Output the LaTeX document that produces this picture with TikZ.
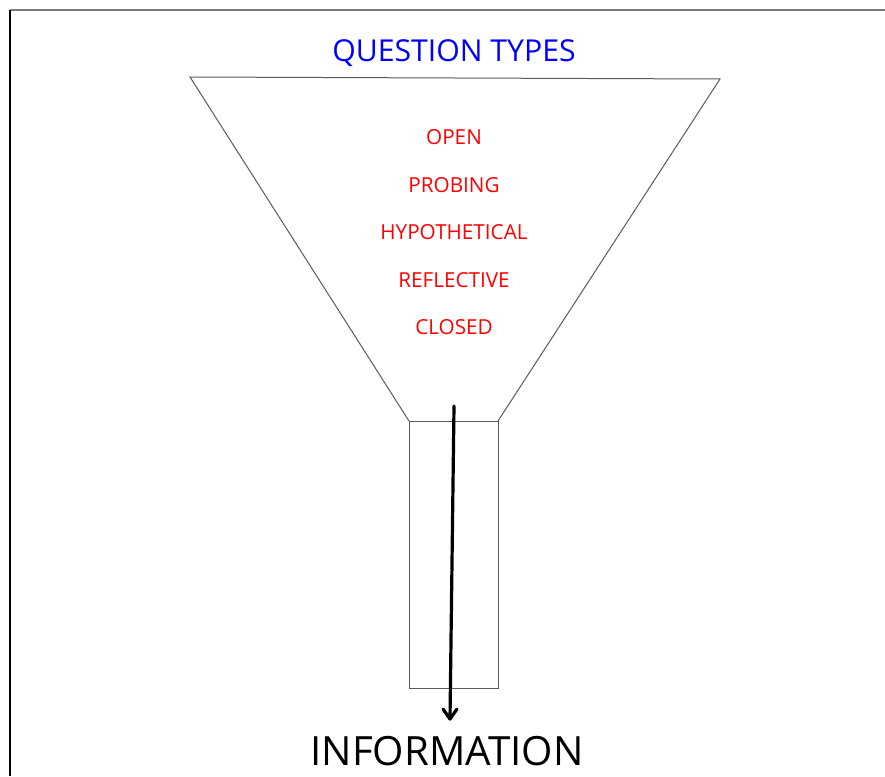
\documentclass[tikz,border=0pt]{standalone}
\usepackage{fontspec}
\setmainfont{Open Sans}
\definecolor{qblue}{RGB}{0,0,255}
\definecolor{qred}{RGB}{255,0,0}
\definecolor{edgegray}{RGB}{90,90,90}
\tikzset{
  funnelline/.style={draw=edgegray, line width=1pt},
  itemtext/.style={text=qred, font=\fontsize{20.7}{24}\selectfont, inner sep=0pt},
  flowarrow/.style={draw=black, line width=3.2pt, line cap=round, line join=round},
}
\begin{document}
\begin{tikzpicture}[x=1pt, y=-1pt]
\useasboundingbox (0,0) rectangle (885,776);
% frame
\coordinate (ftl) at (10,10);
\coordinate (ftr) at (885,10);
\coordinate (fbl) at (10,776);
\draw[draw=edgegray!80, line width=2pt] (ftl) -- (ftr);
\draw[draw=black, line width=2pt] (ftl) -- (fbl);
% funnel
\coordinate (tl) at (190,77);
\coordinate (tr) at (720,79);
\coordinate (bl) at (409,421);
\coordinate (br) at (498,421);
\coordinate (sl) at (409,688);
\coordinate (sr) at (498,688);
\draw[funnelline] (bl) -- (tl) -- (tr) -- (br);
\draw[funnelline] (bl) rectangle (sr);
% title
\node[text=qblue, font=\fontsize{30.2}{34}\selectfont, inner sep=0pt] (title) at (454,53) {QUESTION TYPES};
% items
\node[itemtext] (open) at (454,137) {OPEN};
\node[itemtext] (probing) at (454,185) {PROBING};
\node[itemtext] (hypo) at (454,232) {HYPOTHETICAL};
\node[itemtext] (refl) at (454,280) {REFLECTIVE};
\node[itemtext] (closed) at (454,327) {CLOSED};
% arrow
\coordinate (astart) at (454,406);
\coordinate (aend) at (450,719);
\draw[flowarrow] (astart) -- (aend);
\draw[flowarrow] (aend) ++(-7,-10) -- (aend) -- ++(7,-10);
% information
\node[font=\fontsize{40.3}{44}\selectfont, inner sep=0pt] (info) at (447,751) {INFORMATION};
\end{tikzpicture}
\end{document}
